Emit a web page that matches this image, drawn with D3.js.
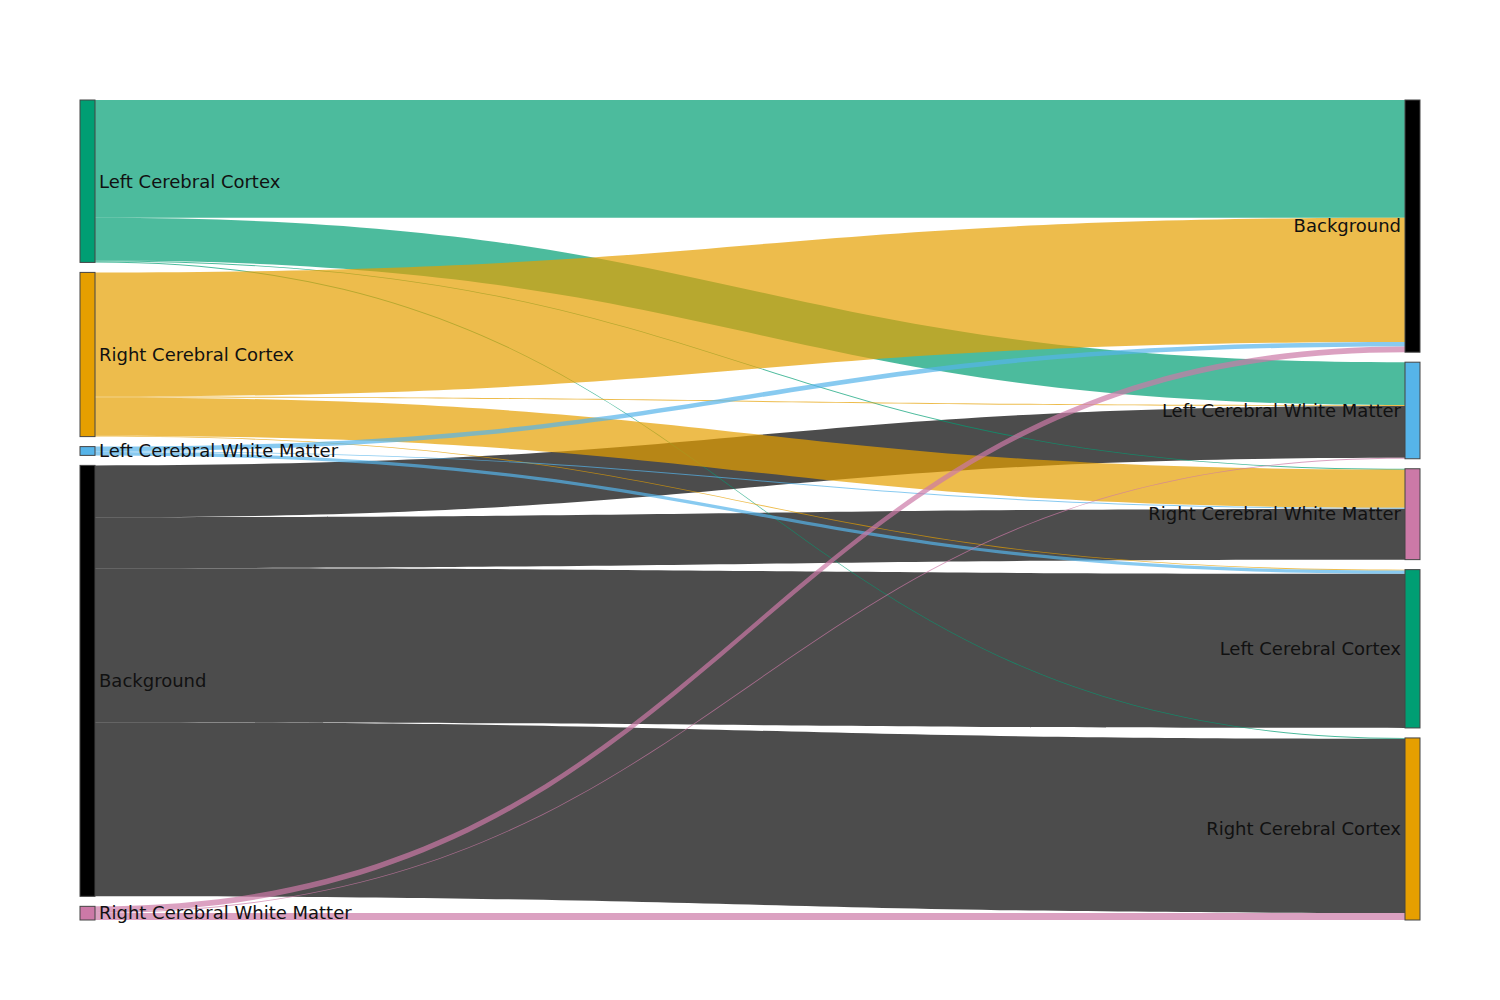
<!DOCTYPE html>
<html>
<head>
<meta charset="utf-8">
<script src="https://cdn.jsdelivr.net/npm/d3@7"></script>
<style>
  body { margin: 0; background: #fff; }
  svg { display: block; }
</style>
</head>
<body>
<svg id="chart" width="1500" height="1000"></svg>
<script>
// node columns, top to bottom
const leftNodes = ["Left Cerebral Cortex", "Right Cerebral Cortex", "Left Cerebral White Matter", "Background", "Right Cerebral White Matter"];
const rightNodes = ["Background", "Left Cerebral White Matter", "Right Cerebral White Matter", "Left Cerebral Cortex", "Right Cerebral Cortex"];

// links (drawn in this order)
const linkSource = [
  "Background", "Background", "Background", "Background",
  "Left Cerebral Cortex", "Left Cerebral Cortex", "Left Cerebral Cortex", "Left Cerebral Cortex",
  "Right Cerebral Cortex", "Right Cerebral Cortex", "Right Cerebral Cortex", "Right Cerebral Cortex",
  "Left Cerebral White Matter", "Left Cerebral White Matter", "Left Cerebral White Matter",
  "Right Cerebral White Matter", "Right Cerebral White Matter", "Right Cerebral White Matter"
];
const linkTarget = [
  "Left Cerebral White Matter", "Right Cerebral White Matter", "Left Cerebral Cortex", "Right Cerebral Cortex",
  "Background", "Left Cerebral White Matter", "Right Cerebral White Matter", "Right Cerebral Cortex",
  "Background", "Left Cerebral White Matter", "Right Cerebral White Matter", "Left Cerebral Cortex",
  "Background", "Right Cerebral White Matter", "Left Cerebral Cortex",
  "Background", "Left Cerebral White Matter", "Right Cerebral Cortex"
];
const linkValue = [
  52, 51, 154.5, 174.5,
  118, 43, 0.9, 0.9,
  124.5, 0.9, 38.3, 0.9,
  4.6, 0.9, 3.3,
  5.7, 0.9, 7.1
];

const nodeColor = {
  "Background": "#000000",
  "Left Cerebral Cortex": "#009E73",
  "Right Cerebral Cortex": "#E69F00",
  "Left Cerebral White Matter": "#56B4E9",
  "Right Cerebral White Matter": "#CC79A7"
};

const svg = d3.select("#chart");
const yTop = 100, yBottom = 920, pad = 10, nodeW = 15;
const xLeft = 80, xRight = 1405;

const links = linkValue.map((v, i) => ({ source: linkSource[i], target: linkTarget[i], value: v, i }));
const total = d3.sum(linkValue);
const hScale = d3.scaleLinear().domain([0, total]).range([0, yBottom - yTop - pad * (leftNodes.length - 1)]);

function layout(names, key, x) {
  const nodes = {};
  let y = yTop;
  names.forEach(n => {
    const v = d3.sum(links.filter(l => l[key] === n), l => l.value);
    nodes[n] = { name: n, x: x, y0: y, y1: y + hScale(v) };
    y += hScale(v) + pad;
  });
  return nodes;
}
const L = layout(leftNodes, "source", xLeft);
const R = layout(rightNodes, "target", xRight);

// stack link ends on each node
leftNodes.forEach(n => {
  let y = L[n].y0;
  links.filter(l => l.source === n)
    .sort((a, b) => R[a.target].y0 - R[b.target].y0)
    .forEach(l => { l.sy0 = y; y += hScale(l.value); l.sy1 = y; });
});
rightNodes.forEach(n => {
  let y = R[n].y0;
  links.filter(l => l.target === n)
    .sort((a, b) => L[a.source].y0 - L[b.source].y0)
    .forEach(l => { l.ty0 = y; y += hScale(l.value); l.ty1 = y; });
});

const x0 = xLeft + nodeW, x1 = xRight;
const xm = d3.interpolateNumber(x0, x1)(0.5);
const ribbon = l => {
  const p = d3.path();
  p.moveTo(x0, l.sy0);
  p.bezierCurveTo(xm, l.sy0, xm, l.ty0, x1, l.ty0);
  p.lineTo(x1, l.ty1);
  p.bezierCurveTo(xm, l.ty1, xm, l.sy1, x0, l.sy1);
  p.closePath();
  return p.toString();
};

svg.append("g")
  .selectAll("path")
  .data(links)
  .enter()
  .append("path")
    .attr("d", ribbon)
    .style("fill", d => nodeColor[d.source])
    .style("fill-opacity", 0.7)
    .style("stroke", "none");

const drawNodes = (nodes, side) => {
  const g = svg.append("g");
  const arr = Object.values(nodes);
  g.selectAll("rect")
    .data(arr)
    .enter()
    .append("rect")
      .attr("x", d => d.x)
      .attr("y", d => d.y0)
      .attr("width", nodeW)
      .attr("height", d => d.y1 - d.y0)
      .style("fill", d => nodeColor[d.name])
      .style("stroke", "#444")
      .style("stroke-width", 1);
  g.selectAll("text")
    .data(arr)
    .enter()
    .append("text")
      .attr("x", d => side === "left" ? d.x + nodeW + 4 : d.x - 4)
      .attr("y", d => (d.y0 + d.y1) / 2)
      .attr("dy", "0.35em")
      .attr("text-anchor", side === "left" ? "start" : "end")
      .style("font-family", "'DejaVu Sans', sans-serif")
      .style("font-size", "18px")
      .style("fill", "#111")
      .text(d => d.name);
};
drawNodes(L, "left");
drawNodes(R, "right");
</script>
</body>
</html>
